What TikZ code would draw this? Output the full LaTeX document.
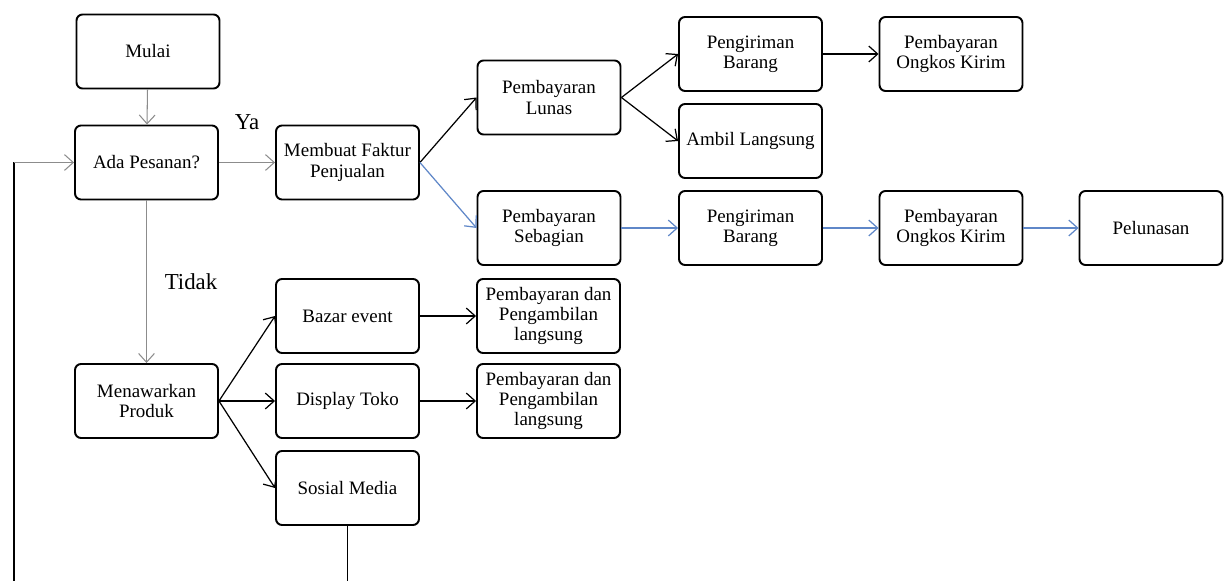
\documentclass[tikz,border=0pt]{standalone}
\usepackage{fontspec}
\setmainfont{Liberation Serif}
\usetikzlibrary{arrows.meta}
\definecolor{linegray}{RGB}{140,140,140}
\definecolor{lineblue}{RGB}{95,135,200}
\tikzset{
  box/.style={draw, rounded corners=0.12cm, line width=1.1pt, minimum width=2.86cm,
    minimum height=1.48cm, inner sep=0pt, align=center,
    font=\fontsize{10.8}{11.6}\selectfont},
  arw/.style={-{Straight Barb[length=5pt,width=9pt]}},
  grayarw/.style={arw, draw=linegray, line width=0.6pt},
  blackarw/.style={arw, line width=0.7pt},
  bluearw/.style={arw, draw=lineblue, line width=0.7pt},
  lbl/.style={font=\fontsize{13}{13}\selectfont}
}
\begin{document}
\begin{tikzpicture}[x=0.02cm, y=-0.02cm]
          \useasboundingbox (0,0) rectangle (1232,581);
          \node[box] (mulai) at (148,51.5){Mulai};
          \node[box] (ada) at (146.5,162.5){Ada Pesanan?};
          \node[box] (faktur) at (347.5,162.5){Membuat Faktur\\Penjualan};
          \node[box] (lunas) at (549,97.5){Pembayaran\\Lunas};
          \node[box] (kirim1) at (750.5,54){Pengiriman\\Barang};
          \node[box] (ongkos1) at (951,54){Pembayaran\\Ongkos Kirim};
          \node[box] (ambil) at (750.5,141){Ambil Langsung};
          \node[box] (sebagian) at (549,228){Pembayaran\\Sebagian};
          \node[box] (kirim2) at (750.5,228){Pengiriman\\Barang};
          \node[box] (ongkos2) at (951,228){Pembayaran\\Ongkos Kirim};
          \node[box] (pelunasan) at (1151,228){Pelunasan};
          \node[box] (menawar) at (146.5,401){Menawarkan\\Produk};
          \node[box] (bazar) at (347.5,316){Bazar event};
          \node[box] (bayar1) at (548.5,316){Pembayaran dan\\Pengambilan\\langsung};
          \node[box] (display) at (347.5,401){Display Toko};
          \node[box] (bayar2) at (548.5,401){Pembayaran dan\\Pengambilan\\langsung};
          \node[box] (sosmed) at (347.5,488){Sosial Media};
          \node[lbl] (ya) at (247,122){Ya};
          \node[lbl] (tidak) at (191,282){Tidak};
          \coordinate (loopbot) at (14,581);
          \coordinate (loopcorner) at (14,162.5);
          \coordinate (sosbot) at (350,581);
          \draw[grayarw](mulai) -- (ada);
          \draw[grayarw](ada) -- (faktur);
          \draw[grayarw](ada) -- (menawar);
          \draw[line width=1.3pt](loopbot) -- (loopcorner);
          \draw[grayarw](loopcorner) -- (ada.west);
          \draw[blackarw](faktur.east) -- (lunas.west);
          \draw[blackarw](lunas.east) -- (kirim1.west);
          \draw[blackarw](lunas.east) -- (ambil.west);
          \draw[blackarw](kirim1) -- (ongkos1);
          \draw[bluearw](faktur.east) -- (sebagian.west);
          \draw[bluearw](sebagian) -- (kirim2);
          \draw[bluearw](kirim2) -- (ongkos2);
          \draw[bluearw](ongkos2) -- (pelunasan);
          \draw[blackarw](menawar.east) -- (bazar.west);
          \draw[blackarw](menawar) -- (display);
          \draw[blackarw](menawar.east) -- (sosmed.west);
          \draw[blackarw](bazar) -- (bayar1);
          \draw[blackarw](display) -- (bayar2);
          \draw[line width=0.9pt](sosmed.south) -- (sosmed.south |- sosbot);
        \end{tikzpicture}
\end{document}
